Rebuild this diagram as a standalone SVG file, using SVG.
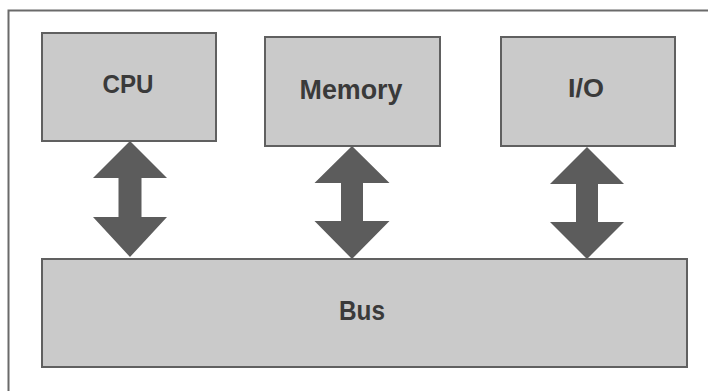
<svg xmlns="http://www.w3.org/2000/svg" width="708" height="391" viewBox="0 0 708 391">
<style>
.box{fill:#cacaca;stroke:#606060;stroke-width:2}
.lbl{font-family:"Liberation Sans",Arial,sans-serif;font-weight:bold;fill:#3a3a3a;text-anchor:middle}
.arr{fill:#5c5c5c}
</style>
<rect width="708" height="391" fill="#ffffff"/>
<path d="M8.5,391 V10.5 H708" fill="none" stroke="#6a6a6a" stroke-width="2"/>
<g id="connectors">
<polygon class="arr" points="130,141 167,178 141.5,178 141.5,217 167,217 130,257 93,217 118.5,217 118.5,178 93,178"/>
<polygon class="arr" points="352,146 389.5,183 363,183 363,221 389.5,221 352,259 314.5,221 341,221 341,183 314.5,183"/>
<polygon class="arr" points="587,147 624,184 598,184 598,222 624,222 587,259 550,222 576,222 576,184 550,184"/>
</g>
<g id="cpu">
<rect class="box" x="42" y="33" width="174" height="108"/>
<text class="lbl" x="128" y="93" font-size="26" textLength="51" lengthAdjust="spacingAndGlyphs">CPU</text>
</g>
<g id="memory">
<rect class="box" x="265" y="37" width="175" height="109"/>
<text class="lbl" x="351" y="99" font-size="27" textLength="103" lengthAdjust="spacingAndGlyphs">Memory</text>
</g>
<g id="io">
<rect class="box" x="501" y="37" width="174" height="109"/>
<text class="lbl" x="586" y="97" font-size="26" textLength="36" lengthAdjust="spacingAndGlyphs">I/O</text>
</g>
<g id="bus">
<rect class="box" x="42" y="259" width="645" height="108"/>
<text class="lbl" x="362" y="320" font-size="28" textLength="46" lengthAdjust="spacingAndGlyphs">Bus</text>
</g>
</svg>
